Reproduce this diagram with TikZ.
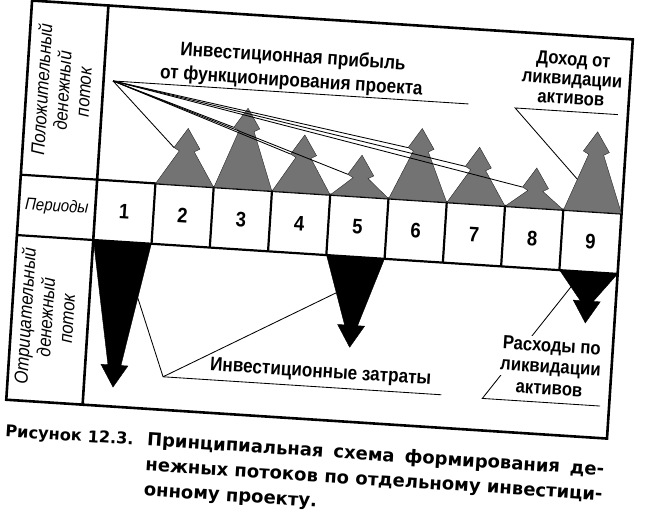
\documentclass[tikz,border=0pt]{standalone}
\usepackage{fontspec}
\setmainfont{Liberation Sans}
\newfontfamily\capfont{DejaVu Sans}
\newfontfamily\narrowfont[FakeStretch=0.88]{Liberation Sans}
\usetikzlibrary{calc}

\tikzset{
  frameline/.style={line width=2.6pt, line cap=rect},
  cellline/.style={line width=2.2pt},
  posarr/.style={fill=black!55, draw=black!85, line width=0.4pt},
  negarr/.style={fill=black, draw=black, line width=0.4pt},
  leader/.style={line width=0.85pt},
  headlbl/.style={font=\narrowfont\fontsize{19.5}{24}\selectfont\bfseries, align=center, inner sep=1pt},
  sidelbl/.style={font=\narrowfont\fontsize{19}{21}\selectfont\itshape, align=center, inner sep=0pt, rotate=90},
  perlbl/.style={font=\narrowfont\fontsize{17}{20}\selectfont\itshape, inner sep=0pt},
  numlbl/.style={font=\narrowfont\fontsize{21}{22}\selectfont\bfseries, inner sep=0pt},
  caplbl/.style={font=\capfont\fontsize{16.2}{22}\selectfont\bfseries, inner sep=0pt, anchor=base west},
  capbody/.style={font=\capfont\fontsize{18}{22}\selectfont\bfseries, inner sep=0pt, anchor=base west},
}

% positive (income) arrow: name, centre x, height above the periods row
\newcommand\PosArrow[3]{%
  \pgfmathsetmacro\pac{#2}\pgfmathsetmacro\pah{#3}%
  \path[posarr] (\pac-29,194.5) -- (\pac-7.5,194.5-\pah+23) -- (\pac-13,194.5-\pah+20)
     -- (\pac,194.5-\pah) -- (\pac+13,194.5-\pah+20) -- (\pac+7.5,194.5-\pah+23)
     -- (\pac+29,194.5) -- cycle;
  \coordinate (#1b) at (\pac-13,194.5-\pah+20);
  \coordinate (#1l) at (\pac-29,194.5);
  \coordinate (#1n) at (\pac-7.5,194.5-\pah+23);
}
% negative (outflow) arrow: name, centre x, tip y
\newcommand\NegArrow[3]{%
  \pgfmathsetmacro\nac{#2}\pgfmathsetmacro\nat{#3}%
  \path[negarr] (\nac-29,255) -- (\nac-6.5,\nat-22) -- (\nac-13.5,\nat-22) -- (\nac,\nat)
     -- (\nac+13.5,\nat-22) -- (\nac+6.5,\nat-22) -- (\nac+29,255) -- cycle;
  \coordinate (#1bl) at (\nac-29,255);
  \coordinate (#1nl) at (\nac-6.5,\nat-22);
  \coordinate (#1br) at (\nac+29,255);
  \coordinate (#1nr) at (\nac+6.5,\nat-22);
}

\begin{document}
\begin{tikzpicture}[x=1pt,y=-1pt]
\useasboundingbox (0,0) rectangle (650,518);
\clip (0,0) rectangle (650,518);
\begin{scope}[rotate around={-3.7:(325,259)}, every node/.style={transform shape}]

% frame and grid
\draw[cellline] (16,194.5) -- (618,194.5);
\draw[cellline] (16,255) -- (618,255);
\foreach \i in {1,...,8}
  \draw[cellline] ({92.5+58.39*\i},194.5) -- ({92.5+58.39*\i},255);
\draw[frameline] (92.5,20) -- (92.5,420);
\draw[frameline] (16,20) rectangle (618,420);

% income arrows
\PosArrow{pa2}{180.1}{57}
\PosArrow{pa3}{238.5}{81}
\PosArrow{pa4}{296.9}{58}
\PosArrow{pa5}{355.3}{41.5}
\PosArrow{pa6}{413.7}{72}
\PosArrow{pa7}{472.1}{57}
\PosArrow{pa8}{530.5}{40}
\PosArrow{pa9}{588.9}{80}

% outflow arrows
\NegArrow{na1}{121.7}{400.5}
\NegArrow{na5}{355.3}{345.5}
\NegArrow{na9}{588.9}{306}

% labels in the left column
\node[sidelbl] (lpos) at (52,108) {Положительный\\денежный\\поток};
\node[perlbl] (lper) at (54,224.5) {Периоды};
\node[sidelbl] (lneg) at (50,335) {Отрицательный\\денежный\\поток};

% period numbers
\foreach \i in {1,...,9}
  \node[numlbl] (num\i) at ({92.5+58.39*(\i-0.5)},225) {\i};

% investment profit
\coordinate (fo) at (102,95);
\coordinate (fe) at (458,95);
\node[headlbl] (tprofit) at (280,72) {Инвестиционная прибыль\\от функционирования проекта};
\draw[leader] (fo) -- (fe);
\foreach \k in {2,...,8}
  \draw[leader] (fo) -- (pa\k b);

% liquidation income
\node[headlbl, font=\narrowfont\fontsize{19}{19.5}\selectfont\bfseries] (tinc) at (560,63) {Доход от\\ликвидации\\активов};
\coordinate (ui1) at (505,96);
\coordinate (ui2) at (608,96);
\draw[leader] (ui2) -- (ui1) -- ($(pa9l)!0.55!(pa9n)$);

% investment costs
\coordinate (uc1) at (171,387);
\coordinate (uc2) at (450,387);
\node[headlbl] (tcost) at (328,373) {Инвестиционные затраты};
\draw[leader] (uc2) -- (uc1) -- ($(na1br)!0.445!(na1nr)$);
\draw[leader] (uc1) -- ($(na5bl)!0.54!(na5nl)$);

% liquidation costs
\coordinate (ul1) at (491,388);
\coordinate (ul2) at (609,388);
\draw[leader] (ul2) -- (ul1) -- ($(na9bl)!0.55!(na9nl)$);
\node[headlbl, font=\narrowfont\fontsize{19}{21}\selectfont\bfseries, fill=white, inner sep=1.5pt] (tliq) at (557,343) {Расходы по\\ликвидации};
\node[headlbl, font=\narrowfont\fontsize{19}{21}\selectfont\bfseries] (tliq3) at (557,375) {активов};

% caption
\node[caplbl] (cap0) at (17,457) {Рисунок 12.3.};
\node[capbody] (cap1) at (159,457) {\makebox[458pt][s]{Принципиальная схема формирования де-}};
\node[capbody] (cap2) at (159,482) {\makebox[458pt][s]{нежных потоков по отдельному инвестици-}};
\node[capbody] (cap3) at (159,507) {онному проекту.};
\end{scope}
\end{tikzpicture}
\end{document}
